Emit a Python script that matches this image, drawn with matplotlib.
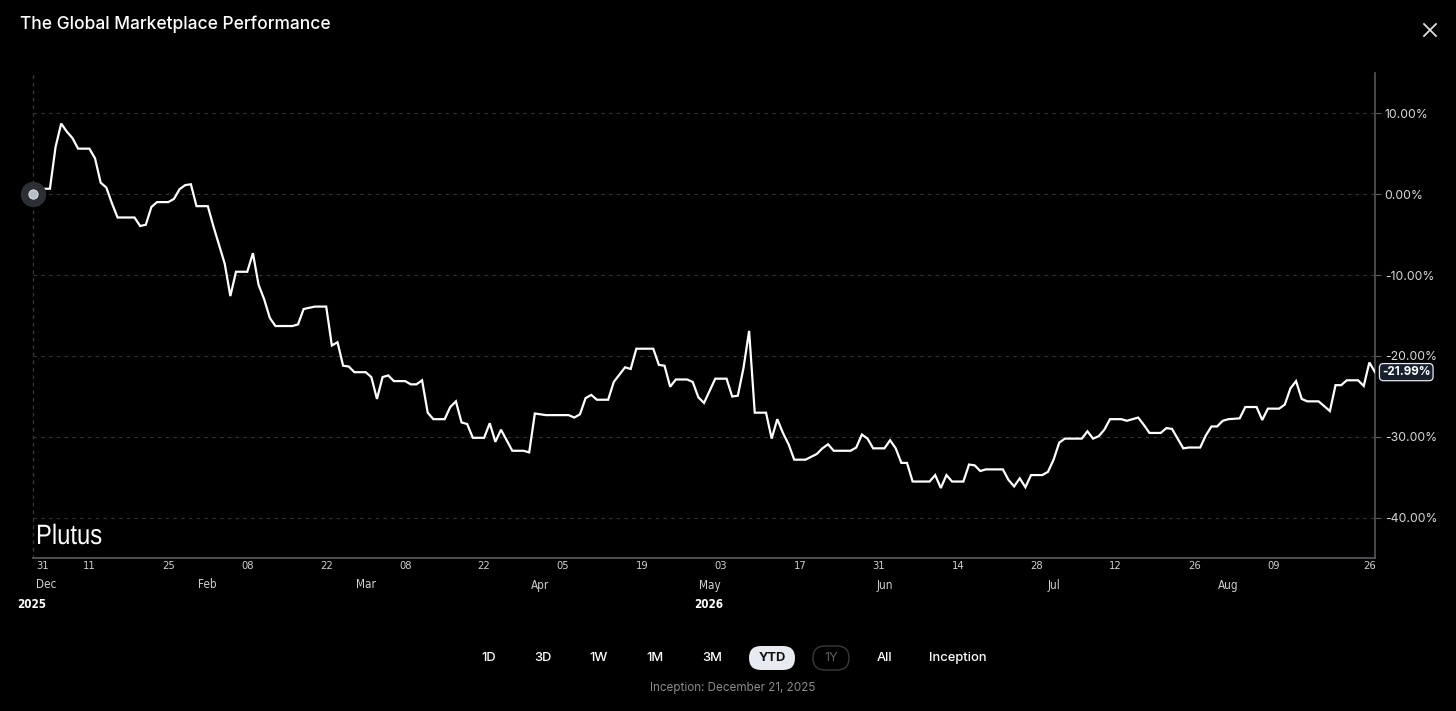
import pandas as pd
import matplotlib
matplotlib.use('Agg')
import matplotlib.pyplot as plt
from matplotlib.patches import FancyBboxPatch, PathPatch
from matplotlib.textpath import TextPath
from matplotlib.font_manager import FontProperties
from matplotlib.transforms import Affine2D
from matplotlib.ticker import FuncFormatter

# performance since inception (% vs. start)
start_date = pd.Timestamp('2026-01-01')
day_offsets = [
    0, 1, 3, 4, 5, 6, 7, 8, 10, 11, 12, 13, 14, 15, 18, 19, 20, 21, 22, 24,
    25, 26, 27, 28, 29, 31, 32, 33, 34, 35, 36, 38, 39, 40, 41, 42, 43, 46, 47, 48,
    50, 52, 53, 54, 55, 56, 57, 59, 60, 61, 62, 63, 64, 66, 67, 68, 69, 70, 71, 73,
    74, 75, 76, 77, 78, 80, 81, 82, 83, 85, 87, 88, 89, 91, 95, 96, 97, 98, 99, 100,
    102, 103, 105, 106, 107, 110, 111, 112, 113, 114, 116, 117, 118, 119, 121, 123, 124, 125, 126, 127,
    128, 130, 131, 132, 133, 134, 135, 137, 139, 140, 141, 142, 145, 146, 147, 148, 149, 151, 152, 153,
    154, 155, 156, 159, 160, 161, 162, 163, 165, 166, 167, 168, 169, 172, 173, 174, 175, 176, 177, 179,
    180, 181, 182, 183, 186, 187, 188, 189, 190, 191, 193, 194, 196, 197, 198, 200, 201, 202, 204, 205,
    207, 208, 209, 210, 211, 212, 214, 215, 217, 218, 219, 221, 222, 223, 224, 225, 226, 228, 229, 230,
    231, 232, 233, 235, 236, 237, 238,
]
perf_pct = [
    0.0, 0.65, 0.65, 5.8, 8.7, 7.7, 6.9, 5.6, 5.6, 4.4, 1.4, 0.8, -1.15, -2.9, -2.9, -3.95, -3.8, -1.6, -1.0, -1.0,
    -0.6, 0.6, 1.1, 1.2, -1.5, -1.5, -4.0, -6.3, -8.6, -12.6, -9.6, -9.6, -7.3, -11.2, -13.0, -15.3, -16.3, -16.3, -16.1, -14.2,
    -13.9, -13.9, -18.7, -18.3, -21.2, -21.3, -22.0, -22.0, -22.6, -25.3, -22.6, -22.4, -23.1, -23.1, -23.5, -23.5, -23.0, -27.0, -27.8, -27.8,
    -26.3, -25.6, -28.2, -28.4, -30.1, -30.1, -28.3, -30.6, -29.1, -31.7, -31.7, -31.9, -27.1, -27.3, -27.3, -27.6, -27.2, -25.2, -24.8, -25.4,
    -25.4, -23.2, -21.4, -21.6, -19.1, -19.1, -21.1, -21.2, -23.8, -22.9, -22.9, -23.2, -25.1, -25.8, -22.8, -22.8, -25.0, -24.9, -21.5, -16.9,
    -27.0, -27.0, -30.2, -27.8, -29.5, -30.9, -32.8, -32.8, -32.1, -31.4, -30.9, -31.7, -31.7, -31.3, -29.7, -30.2, -31.4, -31.4, -30.4, -31.4,
    -33.2, -33.2, -35.5, -35.5, -34.7, -36.3, -34.7, -35.5, -35.5, -33.4, -33.5, -34.2, -34.0, -34.0, -35.3, -36.1, -35.1, -36.2, -34.7, -34.7,
    -34.3, -32.8, -30.7, -30.2, -30.2, -29.3, -30.2, -29.9, -29.1, -27.8, -27.8, -28.0, -27.6, -28.5, -29.5, -29.5, -28.9, -29.0, -31.4, -31.3,
    -31.3, -29.8, -28.7, -28.7, -28.0, -27.8, -27.7, -26.3, -26.3, -27.9, -26.5, -26.5, -26.0, -24.0, -23.1, -25.3, -25.6, -25.6, -26.2, -26.8,
    -23.6, -23.6, -23.0, -23.0, -23.7, -20.8, -21.99,
]
assert len(day_offsets) == len(perf_pct)

tick_dates = ['2026-01-01', '2026-01-11', '2026-01-25', '2026-02-08', '2026-02-22', '2026-03-08',
              '2026-03-22', '2026-04-05', '2026-04-19', '2026-05-03', '2026-05-17', '2026-05-31',
              '2026-06-14', '2026-06-28', '2026-07-12', '2026-07-26', '2026-08-09', '2026-08-26']
tick_labels = ['31', '11', '25', '08', '22', '08', '22', '05', '19', '03', '17', '31',
               '14', '28', '12', '26', '09', '26']
month_dates = ['2026-01-01', '2026-02-01', '2026-03-01', '2026-04-01', '2026-05-01',
               '2026-06-01', '2026-07-01', '2026-08-01']
month_labels = ['Dec', 'Feb', 'Mar', 'Apr', 'May', 'Jun', 'Jul', 'Aug']
year_dates = ['2026-01-01', '2026-05-01']
year_labels = ['2025', '2026']
y_ticks = [10, 0, -10, -20, -30, -40]
range_buttons = ['1D', '3D', '1W', '1M', '3M', 'YTD', '1Y', 'All', 'Inception']
active_range = 'YTD'
disabled_range = '1Y'
inception_note = 'Inception: December 21, 2025'
title = 'The Global Marketplace Performance'
watermark = 'Plutus'

dates = start_date + pd.to_timedelta(day_offsets, unit='D')

W, H = 1456, 711
fig = plt.figure(figsize=(W / 100, H / 100), dpi=100, facecolor='black')

# main chart area, in pixels: x 33..1375, y 73..558
ax = fig.add_axes([33 / W, 1 - 558 / H, (1375 - 33) / W, (558 - 73) / H])
ax.set_facecolor('black')
ax.plot(dates, perf_pct, color='white', lw=1.6, solid_joinstyle='miter', zorder=3)
ax.set_xlim(dates[0], dates[-1])
ax.set_ylim(-44.94, 14.94)

ax.yaxis.tick_right()
ax.set_yticks(y_ticks)
ax.yaxis.set_major_formatter(FuncFormatter(lambda v, p: f'{v:.2f}%'))
ax.tick_params(axis='y', colors='#5a5a60', labelcolor='#d8d8d8', length=4, width=0.8, pad=3)
for lab in ax.get_yticklabels():
    lab.set_family(['Inter', 'DejaVu Sans'])
    lab.set_fontsize(8.8)
ax.yaxis.grid(True, color='#333333', linestyle=(0, (3, 4)), lw=0.8)
ax.set_xticks([])

ax.spines['top'].set_visible(False)
ax.spines['right'].set_color('#55555c')
ax.spines['right'].set_linewidth(1.2)
ax.spines['bottom'].set_color('#5a5a5f')
ax.spines['bottom'].set_linewidth(1.2)
ax.spines['left'].set_color('#3a3a3a')
ax.spines['left'].set_linestyle((0, (2, 4)))
ax.spines['left'].set_linewidth(0.9)

# narrow axis font (condensed DejaVu)
narrow = dict(family=['DejaVu Sans'], fontstretch='condensed')
for i, (d, lab) in enumerate(zip(tick_dates, tick_labels)):
    ha = 'left' if i == 0 else 'center'
    dx = 3 if i == 0 else 0
    ax.annotate(lab, xy=(pd.Timestamp(d), 0), xycoords=('data', 'axes fraction'),
                xytext=(dx, -8), textcoords='offset pixels', ha=ha, va='center',
                color='#d0d0d0', fontsize=8.0, annotation_clip=False, **narrow)
for i, (d, lab) in enumerate(zip(month_dates, month_labels)):
    ha = 'left' if i == 0 else 'center'
    dx = 3 if i == 0 else 0
    ax.annotate(lab, xy=(pd.Timestamp(d), 0), xycoords=('data', 'axes fraction'),
                xytext=(dx, -27), textcoords='offset pixels', ha=ha, va='center',
                color='#d0d0d0', fontsize=8.4, annotation_clip=False, **narrow)
for d, lab in zip(year_dates, year_labels):
    ax.annotate(lab, xy=(pd.Timestamp(d), 0), xycoords=('data', 'axes fraction'),
                xytext=(-1, -46), textcoords='offset pixels', ha='center', va='center',
                color='white', fontsize=8.4, fontweight='bold',
                annotation_clip=False, **narrow)

# start marker
ax.scatter([dates[0]], [perf_pct[0]], s=300, color='#2c2f36', zorder=4, clip_on=False)
ax.scatter([dates[0]], [perf_pct[0]], s=45, color='#b9c0cb', edgecolor='#e8e8e8',
           lw=0.6, zorder=5, clip_on=False)

# last value badge
ax.annotate(f'{perf_pct[-1]:.2f}%', xy=(dates[-1], perf_pct[-1]), xytext=(7, 0),
            textcoords='offset pixels', ha='left', va='center', color='white',
            fontsize=8.4, fontweight='bold', family=['Inter', 'DejaVu Sans'],
            annotation_clip=False, zorder=6,
            bbox=dict(boxstyle='round,pad=0.22,rounding_size=0.35', fc='#18202e',
                      ec='#e6e9ee', lw=0.9))

# overlay in pixel coordinates for the surrounding UI
ov = fig.add_axes([0, 0, 1, 1])
ov.set_xlim(0, W)
ov.set_ylim(H, 0)
ov.axis('off')
ov.patch.set_alpha(0)

ov.text(20, 24, title, color='white', fontsize=12.5, fontweight='medium',
        family=['Inter', 'DejaVu Sans'], ha='left', va='center')
ov.plot([1424, 1436], [24, 36], color='#dddddd', lw=1.3)
ov.plot([1424, 1436], [36, 24], color='#dddddd', lw=1.3)

# watermark: tightly tracked, so squeeze the glyph outlines horizontally
wm_path = TextPath((0, 0), watermark, size=28,
                   prop=FontProperties(family=['Liberation Sans', 'DejaVu Sans']))
wm_tr = Affine2D().scale(0.85, -1).translate(36, 544) + ov.transData
ov.add_patch(PathPatch(wm_path, transform=wm_tr, fc='white', ec='none'))

button_x = [489, 543, 599, 655, 712, 772, 831, 884, 958]
for bx, lab in zip(button_x, range_buttons):
    color = 'white'
    weight = 'medium'
    if lab == active_range:
        ov.add_patch(FancyBboxPatch((bx - 23, 646), 46, 24,
                                    boxstyle='round,pad=0,rounding_size=12',
                                    fc='#e7ebf1', ec='none'))
        color = '#111111'
        weight = 'bold'
    elif lab == disabled_range:
        ov.add_patch(FancyBboxPatch((bx - 18, 646), 36, 24,
                                    boxstyle='round,pad=0,rounding_size=12',
                                    fc='none', ec='#3a3a3e', lw=1.0))
        color = '#5f5f66'
        weight = 'normal'
    ov.text(bx, 658, lab, color=color, fontsize=9.3, fontweight=weight,
            family=['Inter', 'DejaVu Sans'], ha='center', va='center')

ov.text(733, 688, inception_note, color='#8c8c8c', fontsize=8.4,
        family=['Inter', 'DejaVu Sans'], ha='center', va='center')

fig.savefig('out.png', dpi=100, facecolor='black')
